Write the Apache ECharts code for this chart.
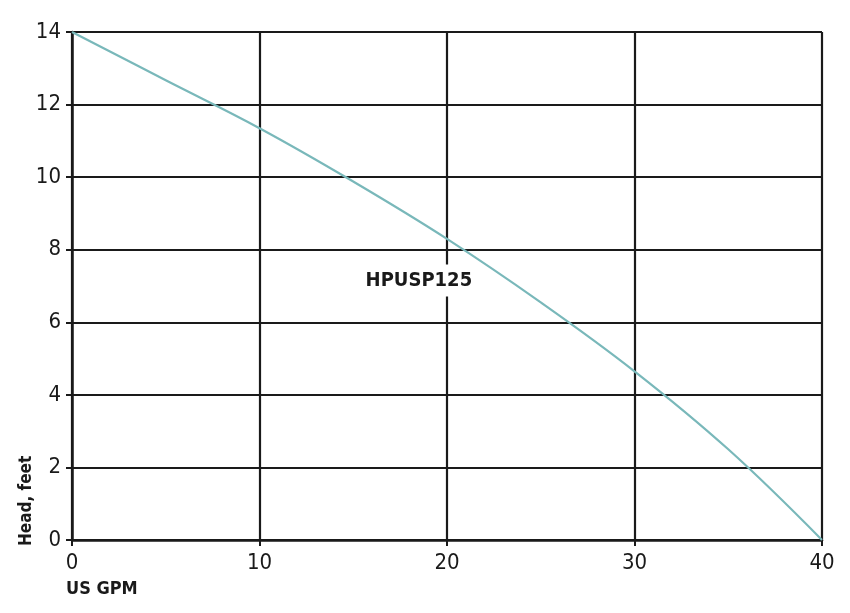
<!DOCTYPE html>
<html><head><meta charset="utf-8">
<script src="https://cdn.jsdelivr.net/npm/echarts@6/dist/echarts.min.js"></script>
<style>html,body{margin:0;padding:0;background:#fff}#c{width:850px;height:613px}</style>
</head><body><div id="c"></div>
<script>
const flow = [0, 5, 10, 15, 20, 25, 30, 35, 40];
const head = [14, 12.67, 11.35, 9.88, 8.3, 6.55, 4.65, 2.5, 0];
const xTicks = [0, 10, 20, 30, 40];
const yTicks = [0, 2, 4, 6, 8, 10, 12, 14];
const seriesName = 'HPUSP125';
const labelPos = [18.5, 7.15];

const font = '"DejaVu Sans Condensed","Liberation Sans Narrow",sans-serif';
const chart = echarts.init(document.getElementById('c'));
chart.setOption({
  animation: false,
  grid: {left: 72, right: 28, top: 32, bottom: 73},
  xAxis: {
    type: 'value', min: 0, max: 40, interval: 10,
    axisLine: {show: true, onZero: false, lineStyle: {color: '#1a1a1a', width: 2.5}},
    axisTick: {show: true, length: 6, lineStyle: {color: '#1a1a1a', width: 2}},
    axisLabel: {color: '#1a1a1a', fontSize: 22, fontFamily: font, margin: 12},
    splitLine: {show: true, lineStyle: {color: '#1a1a1a', width: 2.2}}
  },
  yAxis: {
    type: 'value', min: 0, max: 14, interval: 2,
    axisLine: {show: true, lineStyle: {color: '#1a1a1a', width: 2.5}},
    axisTick: {show: true, length: 6, lineStyle: {color: '#1a1a1a', width: 2}},
    axisLabel: {color: '#1a1a1a', fontSize: 22, fontFamily: font, margin: 11},
    splitLine: {show: true, lineStyle: {color: '#1a1a1a', width: 2.2}}
  },
  graphic: [
    {type: 'text', left: 66, top: 580, style: {text: 'US GPM', font: 'bold 18px ' + font, fill: '#1a1a1a'}},
    {type: 'text', x: 18, y: 546, rotation: Math.PI / 2, style: {text: 'Head, feet', font: 'bold 17px ' + font, fill: '#1a1a1a', textAlign: 'left', textVerticalAlign: 'top'}}
  ],
  series: [
    {type: 'line', data: flow.map((f, i) => [f, head[i]]), smooth: 0.4, symbol: 'none',
     lineStyle: {color: '#79b8ba', width: 2.2}},
    {type: 'scatter', data: [labelPos], symbolSize: 0, z: 5, itemStyle: {opacity: 1},
     label: {show: true, position: 'inside', formatter: seriesName, color: '#1a1a1a', opacity: 1,
             fontFamily: font, fontWeight: 'bold', fontSize: 20, backgroundColor: '#fff', padding: [6, 4]}}
  ]
});
</script></body></html>
